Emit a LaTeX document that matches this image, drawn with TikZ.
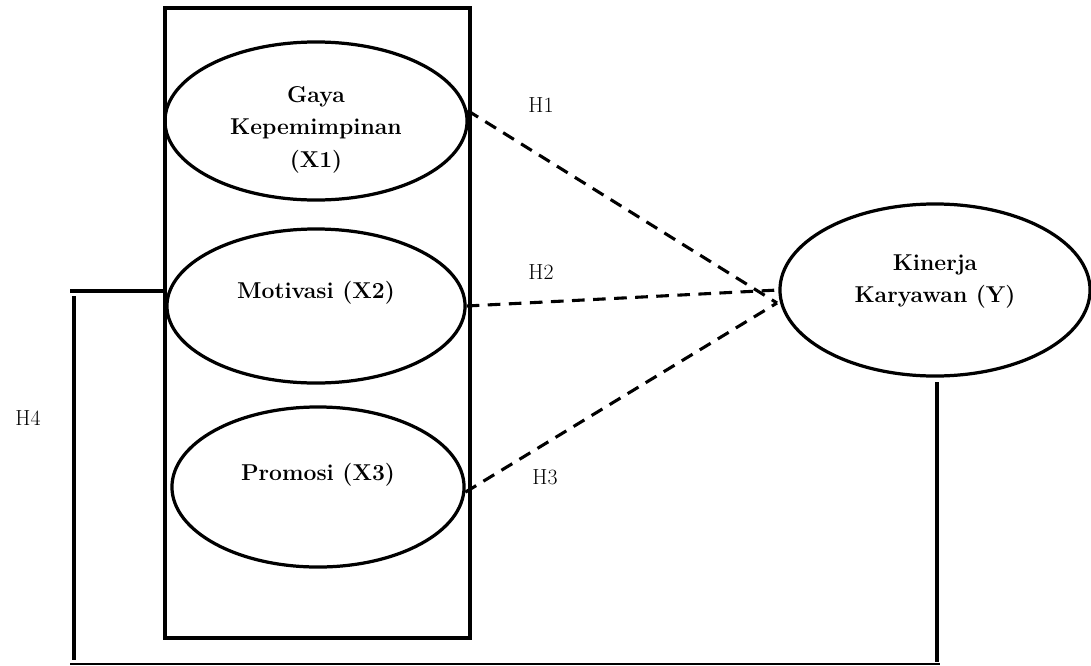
\documentclass[tikz,border=0pt]{standalone}
\usepackage{fontspec}
\usepackage{tikz}
\usetikzlibrary{shapes.geometric}

\tikzset{
  var/.style={draw, ellipse, line width=2.3pt, inner sep=0pt},
  vtext/.style={align=center, font=\fontsize{16.3}{23}\selectfont\bfseries},
  hyp/.style={font=\fontsize{15.5}{18}\selectfont},
  dashline/.style={line width=2.2pt, dash pattern=on 9pt off 6pt},
  solidline/.style={line width=2.5pt}
}

\begin{document}
\begin{tikzpicture}[x=0.025cm, y=-0.025cm]
\useasboundingbox (0,0) rectangle (1091,665);

% group box
\draw[line width=2.3pt] (165,8) rectangle (470,638);

% variables
\node[var, minimum width=7.55cm, minimum height=3.95cm] (x1) at (316,121) {};
\node[var, minimum width=7.45cm, minimum height=3.85cm] (x2) at (316,306) {};
\node[var, minimum width=7.3cm, minimum height=4cm] (x3) at (318,487) {};
\node[var, minimum width=7.75cm, minimum height=4.3cm] (y) at (935,290) {};

\node[vtext] (x1t) at ([yshift=-0.22cm]x1.center) {Gaya\\Kepemimpinan\\(X1)};
\node[vtext] (x2t) at ([yshift=0.32cm]x2.center) {Motivasi (X2)};
\node[vtext] (x3t) at ([yshift=0.3cm]x3.center) {Promosi (X3)};
\node[vtext] (yt) at ([yshift=0.22cm]y.center) {Kinerja\\Karyawan (Y)};

% hypotheses
\coordinate (yin) at (777,303);
\draw[dashline] (x1.4) -- (yin);
\draw[dashline] (x2.east) -- (y.west);
\draw[dashline] (x3.-2) -- (yin);

\node[hyp] (h1) at (541,105) {H1};
\node[hyp] (h2) at (541,272) {H2};
\node[hyp] (h3) at (545,477) {H3};
\node[hyp] (h4) at (28,418) {H4};

% simultaneous path
\coordinate (l1) at (70,291);
\coordinate (lt) at (74,296);
\coordinate (lb) at (74,660);
\coordinate (bl) at (70,664);
\coordinate (br) at (940,664);
\coordinate (rt) at (937,382);
\coordinate (rb) at (937,662);
\draw[solidline] (l1) -- (x2.west |- l1);
\draw[solidline] (lt) -- (lb);
\draw[line width=1.4pt] (bl) -- (br);
\draw[solidline] (rt) -- (rb);
\end{tikzpicture}
\end{document}
